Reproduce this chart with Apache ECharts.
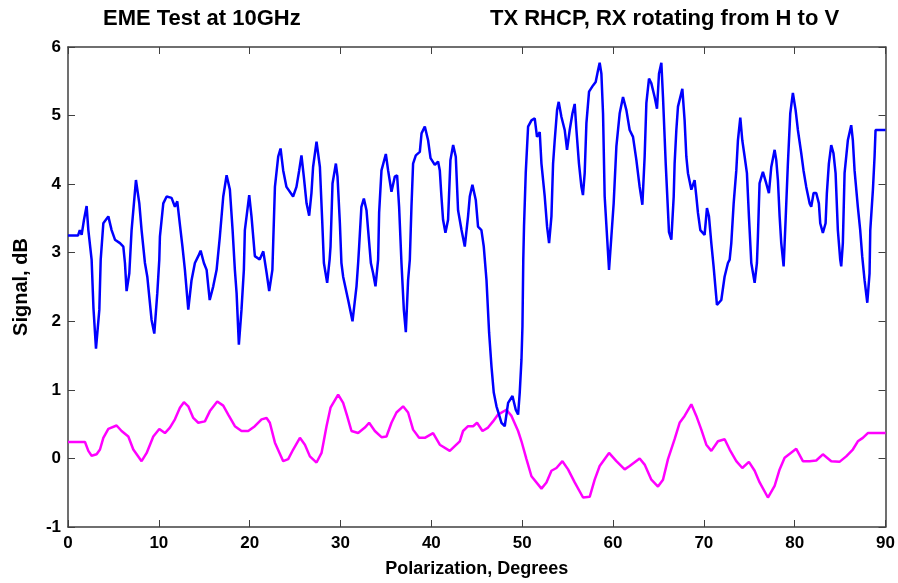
<!DOCTYPE html>
<html>
<head>
<meta charset="utf-8">
<script src="https://cdn.jsdelivr.net/npm/echarts@6/dist/echarts.min.js"></script>
<style>
  html, body { margin: 0; padding: 0; background: #fff; }
  #line1 { width: 898px; height: 583px; }
</style>
</head>
<body>
<div id="line1"></div>
<script>
// blue trace: polarization angle (deg) and signal (dB)
const blueDeg = [0, 1.1, 1.3, 1.5, 1.76, 2.05, 2.24, 2.6, 2.8, 3.08, 3.45, 3.6, 3.89, 4.44, 4.8, 5.17, 5.72, 6.09, 6.27, 6.45,
  6.75, 7.0, 7.48, 7.85, 8.1, 8.47, 8.73, 9.2, 9.5, 9.83, 10.05, 10.12, 10.49, 10.86, 11.4, 11.77, 12.03, 12.3, 12.6, 12.87,
  13.24, 13.6, 13.97, 14.34, 14.6, 14.96, 15.26, 15.6, 15.99, 16.36, 16.72, 17.09, 17.46, 17.82, 18.12, 18.37, 18.56, 18.81, 19.1, 19.36,
  19.47, 19.95, 20.2, 20.57, 21.1, 21.5, 21.87, 22.15, 22.5, 22.6, 22.78, 23.14, 23.4, 23.69, 24.05, 24.78, 25.15, 25.45, 25.7, 25.96,
  26.26, 26.55, 26.8, 26.98, 27.36, 27.73, 27.98, 28.17, 28.53, 28.8, 28.9, 29.12, 29.49, 29.67, 29.93, 30.1, 30.29, 30.84, 31.32, 31.76,
  31.94, 32.05, 32.3, 32.57, 32.86, 33.04, 33.34, 33.59, 33.85, 34.14, 34.25, 34.51, 34.99, 35.24, 35.61, 35.98, 36.23, 36.45, 36.71, 36.97,
  37.19, 37.44, 37.63, 37.81, 37.99, 38.29, 38.73, 38.92, 39.28, 39.64, 39.91, 40.38, 40.74, 40.93, 41.11, 41.29, 41.55, 41.84, 42.1, 42.4,
  42.69, 42.94, 43.32, 43.68, 44.04, 44.23, 44.52, 44.89, 45.14, 45.51, 45.77, 46.07, 46.36, 46.62, 46.87, 47.17, 47.72, 48.08, 48.45, 48.93,
  49.29, 49.55, 49.73, 49.92, 50.03, 50.12, 50.2, 50.39, 50.65, 51.02, 51.38, 51.63, 51.93, 52.12, 52.48, 52.74, 52.96, 53.22, 53.4, 53.58,
  53.84, 54.02, 54.32, 54.68, 54.94, 55.23, 55.53, 55.78, 55.97, 56.25, 56.52, 56.69, 56.88, 57.07, 57.36, 57.8, 58.09, 58.35, 58.53, 58.72,
  58.9, 59.08, 59.34, 59.56, 59.82, 60.07, 60.37, 60.73, 61.1, 61.47, 61.83, 62.2, 62.57, 62.93, 63.23, 63.48, 63.67, 63.96, 64.22, 64.58,
  64.84, 65.06, 65.32, 65.5, 65.8, 66.16, 66.42, 66.68, 66.78, 66.97, 67.15, 67.63, 67.88, 68.07, 68.25, 68.62, 68.98, 69.17, 69.35, 69.61,
  70.08, 70.34, 70.56, 70.82, 71.07, 71.44, 71.92, 72.28, 72.65, 72.84, 73.02, 73.28, 73.57, 73.75, 74.01, 74.23, 74.49, 74.74, 74.96, 75.22,
  75.59, 75.84, 75.95, 76.13, 76.5, 76.87, 77.16, 77.42, 77.79, 77.97, 78.15, 78.34, 78.52, 78.78, 79.0, 79.25, 79.51, 79.8, 80.1, 80.35,
  80.72, 80.97, 81.27, 81.64, 81.82, 82.08, 82.37, 82.66, 82.81, 83.1, 83.4, 83.54, 83.76, 84.02, 84.27, 84.5, 84.75, 85.01, 85.12, 85.3,
  85.49, 85.85, 86.22, 86.4, 86.59, 86.95, 87.21, 87.43, 87.69, 87.99, 88.24, 88.32, 88.61, 88.79, 88.9, 90];
const blueDb = [3.25, 3.25, 3.33, 3.26, 3.48, 3.68, 3.33, 2.9, 2.2, 1.6, 2.17, 2.9, 3.43, 3.53, 3.33, 3.19, 3.14, 3.09, 2.85, 2.44,
  2.7, 3.33, 4.06, 3.72, 3.33, 2.85, 2.65, 2.02, 1.82, 2.41, 2.9, 3.24, 3.72, 3.82, 3.8, 3.67, 3.75, 3.43, 3.09, 2.75,
  2.17, 2.6, 2.85, 2.95, 3.03, 2.85, 2.75, 2.31, 2.51, 2.75, 3.24, 3.82, 4.13, 3.92, 3.33, 2.75, 2.41, 1.66, 2.17, 2.75,
  3.33, 3.84, 3.53, 2.95, 2.9, 3.02, 2.7, 2.44, 2.75, 3.19, 3.96, 4.4, 4.52, 4.2, 3.96, 3.82, 3.96, 4.2, 4.42, 4.11,
  3.72, 3.54, 3.87, 4.25, 4.62, 4.25, 3.48, 2.85, 2.56, 2.9, 3.09, 4.01, 4.3, 4.11, 3.43, 2.85, 2.65, 2.31, 2.0, 2.51,
  2.85, 3.09, 3.67, 3.79, 3.62, 3.33, 2.85, 2.7, 2.51, 2.9, 3.58, 4.2, 4.44, 4.2, 3.89, 4.11, 4.13, 3.67, 2.85, 2.17,
  1.84, 2.6, 2.9, 3.67, 4.3, 4.42, 4.47, 4.74, 4.84, 4.64, 4.38, 4.28, 4.33, 4.2, 3.82, 3.48, 3.29, 3.48, 4.35, 4.57,
  4.4, 3.62, 3.33, 3.09, 3.53, 3.82, 3.99, 3.77, 3.38, 3.33, 3.09, 2.6, 1.83, 1.34, 0.96, 0.76, 0.52, 0.47, 0.81, 0.91,
  0.71, 0.64, 0.96, 1.44, 1.93, 2.9, 3.38, 4.16, 4.84, 4.93, 4.96, 4.69, 4.76, 4.3, 3.82, 3.38, 3.14, 3.53, 4.3, 4.64,
  5.08, 5.2, 4.98, 4.79, 4.5, 4.79, 5.03, 5.17, 4.79, 4.3, 3.96, 3.84, 4.16, 4.89, 5.35, 5.44, 5.49, 5.66, 5.77, 5.61,
  5.03, 3.82, 3.24, 2.75, 3.24, 3.72, 4.55, 5.03, 5.27, 5.08, 4.79, 4.69, 4.35, 3.96, 3.7, 4.4, 5.18, 5.54, 5.47, 5.27,
  5.1, 5.61, 5.77, 5.27, 4.3, 3.3, 3.19, 3.82, 4.3, 4.79, 5.13, 5.39, 4.93, 4.4, 4.16, 3.92, 4.06, 3.82, 3.58, 3.33,
  3.26, 3.65, 3.53, 3.14, 2.8, 2.24, 2.31, 2.65, 2.85, 2.9, 3.14, 3.72, 4.2, 4.64, 4.97, 4.64, 4.4, 4.16, 3.53, 2.85,
  2.56, 2.85, 3.24, 4.01, 4.18, 4.01, 3.87, 4.25, 4.5, 4.35, 4.06, 3.53, 3.14, 2.8, 3.48, 4.3, 5.03, 5.33, 5.08, 4.79,
  4.45, 4.2, 3.96, 3.72, 3.67, 3.87, 3.87, 3.72, 3.43, 3.29, 3.43, 3.87, 4.3, 4.57, 4.45, 4.16, 3.33, 2.9, 2.8, 3.14,
  4.16, 4.64, 4.86, 4.64, 4.2, 3.67, 3.33, 2.95, 2.6, 2.27, 2.7, 3.33, 3.92, 4.4, 4.79, 4.79];

// magenta trace
const magDeg = [0, 1.87, 2.24, 2.6, 3.15, 3.52, 3.89, 4.44, 5.35, 5.9, 6.64, 7.19, 8.1, 8.66, 9.39, 10.05, 10.67, 11.22, 11.77, 12.32,
  12.76, 13.24, 13.79, 14.34, 15.07, 15.62, 16.43, 17.09, 17.64, 18.37, 19.1, 19.84, 20.57, 21.31, 21.86, 22.22, 22.78, 23.69, 24.24, 24.79,
  25.53, 26.08, 26.63, 27.36, 27.91, 28.46, 28.9, 29.74, 30.29, 30.73, 31.21, 31.94, 32.68, 33.15, 33.78, 34.51, 35.06, 35.61, 36.16, 36.89,
  37.44, 37.99, 38.65, 39.28, 40.19, 40.93, 42.03, 43.13, 43.49, 44.04, 44.6, 45.03, 45.63, 46.24, 46.79, 47.34, 48.26, 48.82, 49.55, 49.92,
  50.47, 51.02, 52.12, 52.67, 53.22, 53.77, 54.43, 55.05, 55.78, 56.7, 57.43, 57.98, 58.53, 59.56, 60.37, 61.28, 61.83, 62.93, 63.48, 64.22,
  64.95, 65.5, 66.05, 66.78, 67.33, 67.88, 68.62, 69.17, 69.72, 70.27, 70.82, 71.55, 72.29, 72.84, 73.57, 74.23, 74.96, 75.59, 76.14, 77.05,
  77.79, 78.34, 78.89, 80.17, 80.9, 81.64, 82.37, 83.1, 84.02, 84.93, 85.67, 86.4, 86.95, 87.5, 88.05, 90];
const magDb = [0.24, 0.24, 0.11, 0.04, 0.06, 0.13, 0.3, 0.43, 0.48, 0.4, 0.32, 0.13, -0.04, 0.08, 0.32, 0.43, 0.37, 0.45, 0.57, 0.74,
  0.82, 0.76, 0.59, 0.52, 0.54, 0.69, 0.83, 0.77, 0.64, 0.47, 0.4, 0.4, 0.47, 0.57, 0.59, 0.52, 0.23, -0.04, -0.01, 0.13,
  0.3, 0.2, 0.03, -0.06, 0.08, 0.47, 0.74, 0.93, 0.81, 0.62, 0.4, 0.37, 0.45, 0.52, 0.4, 0.31, 0.32, 0.52, 0.67, 0.76,
  0.67, 0.42, 0.3, 0.3, 0.37, 0.2, 0.11, 0.25, 0.4, 0.47, 0.47, 0.52, 0.4, 0.45, 0.54, 0.64, 0.71, 0.62, 0.4, 0.25,
  -0.01, -0.26, -0.44, -0.35, -0.18, -0.14, -0.04, -0.16, -0.35, -0.57, -0.56, -0.31, -0.11, 0.08, -0.04, -0.16, -0.11, 0.0, -0.09, -0.31,
  -0.41, -0.31, -0.01, 0.28, 0.52, 0.62, 0.79, 0.62, 0.42, 0.2, 0.11, 0.25, 0.28, 0.13, -0.04, -0.14, -0.05, -0.18, -0.35, -0.57,
  -0.4, -0.16, 0.01, 0.14, -0.04, -0.04, -0.03, 0.06, -0.04, -0.05, 0.03, 0.13, 0.25, 0.3, 0.37, 0.37];

const xTicks = [0, 10, 20, 30, 40, 50, 60, 70, 80, 90];

const font = 'Liberation Sans, Arial, sans-serif';
const frame = '#404040';

function pairs(xs, ys) {
  return xs.map((x, i) => [x, ys[i]]);
}

// box frame: every axis line sits on the grid edge, ticks point inward
const edge = { onZero: false, lineStyle: { color: frame, width: 1.5 } };
const tick = { show: true, inside: true, length: 7, lineStyle: { color: frame } };
const label = { fontFamily: font, fontSize: 17, fontWeight: 'bold', color: '#000' };
const titleStyle = { fontFamily: font, fontSize: 22, fontWeight: 'bold', color: '#000' };

const myChart = echarts.init(document.getElementById('line1'));
const option = {
  animation: false,
  backgroundColor: '#fff',
  title: [{
      text: 'EME Test at 10GHz',
      left: 98,
      top: 3,
      textStyle: titleStyle
    },
    {
      text: 'TX RHCP, RX rotating from H to V',
      left: 485,
      top: 3,
      textStyle: titleStyle
    }
  ],
  grid: { left: 68, right: 12, top: 47, bottom: 55 },
  xAxis: [{
      type: 'value',
      min: xTicks[0],
      max: xTicks[xTicks.length - 1],
      interval: 10,
      name: 'Polarization, Degrees',
      nameLocation: 'middle',
      nameGap: 33,
      nameTextStyle: Object.assign({}, label, { fontSize: 18 }),
      axisLine: edge,
      axisTick: tick,
      axisLabel: Object.assign({ margin: 8 }, label),
      splitLine: { show: false }
    },
    {
      type: 'value',
      position: 'top',
      min: 0,
      max: 90,
      interval: 10,
      axisLine: edge,
      axisTick: tick,
      axisLabel: { show: false },
      splitLine: { show: false }
    }
  ],
  yAxis: [{
      type: 'value',
      min: -1,
      max: 6,
      interval: 1,
      name: 'Signal, dB',
      nameLocation: 'middle',
      nameGap: 37,
      nameTextStyle: Object.assign({}, label, { fontSize: 20 }),
      axisLine: Object.assign({ show: true }, edge),
      axisTick: tick,
      axisLabel: Object.assign({ margin: 7 }, label),
      splitLine: { show: false }
    },
    {
      type: 'value',
      position: 'right',
      min: -1,
      max: 6,
      interval: 1,
      axisLine: Object.assign({ show: true }, edge),
      axisTick: tick,
      axisLabel: { show: false },
      splitLine: { show: false }
    }
  ],
  series: [{
      name: 'blue',
      type: 'line',
      data: pairs(blueDeg, blueDb),
      showSymbol: false,
      lineStyle: { color: '#0000ff', width: 2.5 },
      z: 3
    },
    {
      name: 'magenta',
      type: 'line',
      data: pairs(magDeg, magDb),
      showSymbol: false,
      lineStyle: { color: '#ff00ff', width: 2.5 },
      z: 2
    }
  ]
};
myChart.setOption(option);
</script>
</body>
</html>
